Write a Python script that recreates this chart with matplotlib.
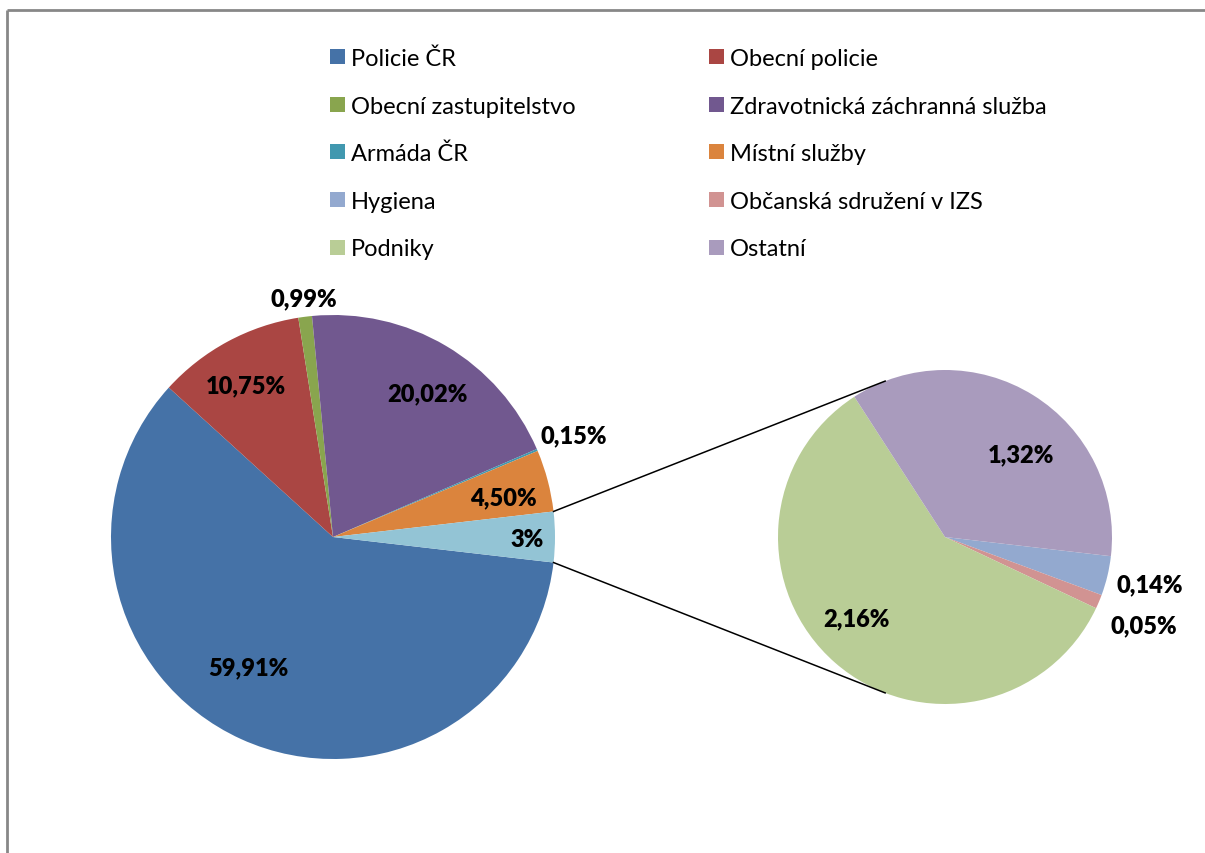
import matplotlib
matplotlib.use("Agg")
import matplotlib.pyplot as plt
from matplotlib.patches import Rectangle
from matplotlib.lines import Line2D
import numpy as np

plt.rcParams['font.family'] = ['Lato', 'DejaVu Sans']

# ---- data ----
categories = ["Policie ČR", "Obecní policie", "Obecní zastupitelstvo",
              "Zdravotnická záchranná služba", "Armáda ČR", "Místní služby",
              "Hygiena", "Občanská sdružení v IZS", "Podniky", "Ostatní"]
main_values = [59.91, 10.75, 0.99, 20.02, 0.15, 4.50]
sub_values = [0.14, 0.05, 2.16, 1.32]
main_labels = ["59,91%", "10,75%", "0,99%", "20,02%", "0,15%", "4,50%", "3%"]
sub_labels = ["0,14%", "0,05%", "2,16%", "1,32%"]

colors = ["#4572A7", "#AA4643", "#89A54E", "#71588F", "#4198AF", "#DB843D",
          "#93A9CF", "#D19392", "#B9CD96", "#A99BBD"]
other_color = "#93C4D5"

# ---- layout (pixels) ----
W, H = 1205, 854
fig = plt.figure(figsize=(W / 100, H / 100), dpi=100)
ax = fig.add_axes([0, 0, 1, 1])

def py(y):
    return H - y

main_center = (333, py(538))
main_r = 222
sub_center = (945, py(538))
sub_r = 167

other_total = sum(sub_values)
all_main = main_values + [other_total]
tot = sum(all_main)
start = -(other_total / tot) * 360 / 2

ax.pie(all_main, colors=colors[:6] + [other_color], startangle=start,
       counterclock=False, center=main_center, radius=main_r,
       wedgeprops=dict(linewidth=0), frame=True)
ax.pie(sub_values, colors=colors[6:], startangle=start,
       counterclock=False, center=sub_center, radius=sub_r,
       wedgeprops=dict(linewidth=0), frame=True)
ax.set_xlim(0, W)
ax.set_ylim(0, H)
ax.set_aspect('equal')
ax.axis('off')

# connector lines
half = np.deg2rad(-start)
conn_ang = np.deg2rad(111)
for s in (1, -1):
    x0 = main_center[0] + main_r * np.cos(s * half)
    y0 = main_center[1] + main_r * np.sin(s * half)
    x1 = sub_center[0] + sub_r * np.cos(s * conn_ang)
    y1 = sub_center[1] + sub_r * np.sin(s * conn_ang)
    ax.plot([x0, x1], [y0, y1], color="black", lw=1.1)

# data labels
main_label_pos = [(248, 668), (246, 386), (304, 299), (427, 394),
                  (574, 436), (503, 498), (527, 540)]
sub_label_pos = [(1150, 585), (1144, 626), (856, 619), (1021, 455)]
for txt, (x, y) in zip(main_labels + sub_labels, main_label_pos + sub_label_pos):
    ax.text(x, py(y), txt, fontsize=17, fontweight='heavy', ha='center',
            va='center', color='black')

# legend
leg_cols_x = [330, 709]
leg_rows_y = [57.5, 105, 152.5, 200.5, 248]
sq = 15
for i, name in enumerate(categories):
    r, c = divmod(i, 2)
    x = leg_cols_x[c]
    y = leg_rows_y[r]
    ax.add_patch(Rectangle((x, py(y) - sq / 2), sq, sq, facecolor=colors[i],
                           edgecolor='none'))
    ax.text(x + 21, py(y), name, fontsize=17, ha='left', va='center_baseline',
            color='black')

# chart border
fig.add_artist(Line2D([7 / W, 7 / W], [0, 1 - 11 / H], color="#878787", lw=2,
                      solid_capstyle='butt', transform=fig.transFigure))
fig.add_artist(Line2D([7 / W, 1.01], [1 - 11 / H, 1 - 11 / H], color="#878787", lw=2,
                      solid_capstyle='butt', transform=fig.transFigure))

fig.savefig("out.png", dpi=100)
